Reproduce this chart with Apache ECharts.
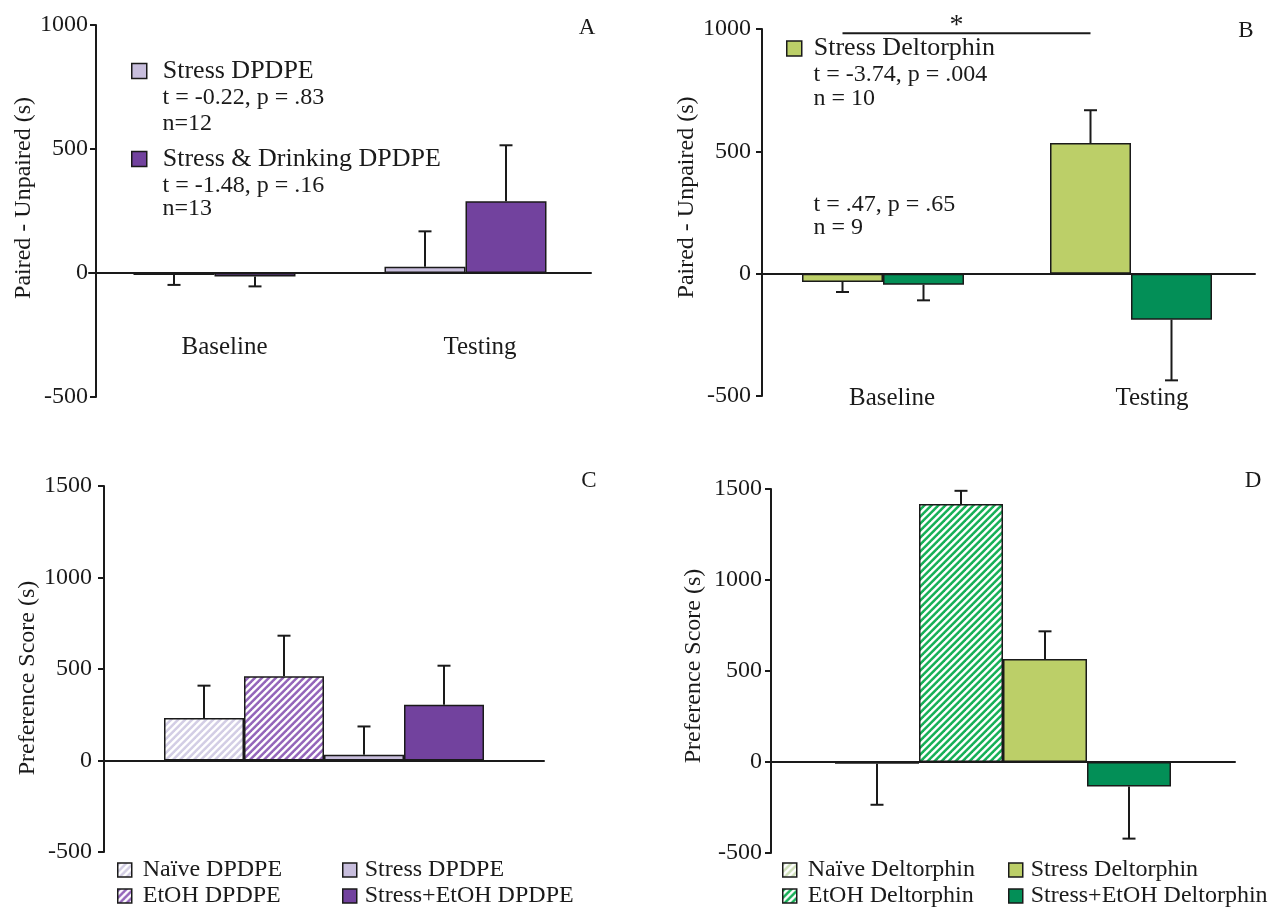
<!DOCTYPE html>
<html><head><meta charset="utf-8">
<script src="https://cdn.jsdelivr.net/npm/echarts@6/dist/echarts.min.js"></script>
<style>html,body{margin:0;padding:0;background:#fff}#c{width:1279px;height:911px}</style>
</head><body><div id="c"></div><script>
const FONT = '"Liberation Serif", "Times New Roman", serif';
const INK = '#1a1a1a';

// ---------- Data ----------
// Panel A (DPDPE, paired - unpaired)
const aCategories = ['Baseline', 'Testing'];
const aStress = [-8, 25];
const aStressSem = [40, 143];
const aDrink = [-14, 289];
const aDrinkSem = [40, 226];
const aStats1 = ['t = -0.22, p = .83', 'n=12'];
const aStats2 = ['t = -1.48, p = .16', 'n=13'];

// Panel B (Deltorphin, paired - unpaired)
const bCategories = ['Baseline', 'Testing'];
const bStress = [-34, 534];
const bStressSem = [41, 134];
const bDrink = [-45, -188];
const bDrinkSem = [64, 248];
const bStats1 = ['t = -3.74, p = .004', 'n = 10'];
const bStats2 = ['t = .47, p = .65', 'n = 9'];
const bSigLevel = 983;

// Panel C (DPDPE preference score)
const cGroups = ['Naïve DPDPE', 'EtOH DPDPE', 'Stress DPDPE', 'Stress+EtOH DPDPE'];
const cValues = [232, 460, 31, 305];
const cSem = [177, 222, 155, 213];

// Panel D (Deltorphin preference score)
const dGroups = ['Naïve Deltorphin', 'EtOH Deltorphin', 'Stress Deltorphin', 'Stress+EtOH Deltorphin'];
const dValues = [-9, 1417, 566, -134];
const dSem = [226, 73, 152, 287];

// ---------- Styles ----------
function stripes(color, p, on) {
  const c = document.createElement('canvas');
  c.width = p; c.height = p;
  const ctx = c.getContext('2d');
  ctx.fillStyle = '#ffffff'; ctx.fillRect(0, 0, p, p);
  ctx.fillStyle = color;
  [-p, 0, p, 2 * p].forEach(k => {
    ctx.beginPath();
    ctx.moveTo(k, 0); ctx.lineTo(k + on, 0); ctx.lineTo(k + on - p, p); ctx.lineTo(k - p, p);
    ctx.closePath(); ctx.fill();
  });
  return { image: c, repeat: 'repeat' };
}
const COL = {
  stressDP: '#c8bedd',
  drinkDP: '#72429e',
  naiveDP: stripes('#d3cee5', 7, 3.6),
  etohDP: stripes('#9466ba', 7, 3.6),
  stressDT: '#bccf68',
  drinkDT: '#038f57',
  naiveDT: stripes('#cfe0ba', 7, 3.6),
  etohDT: stripes('#17b057', 7, 3.6)
};

function barSeries(name, color, data, gi, bw) {
  return {
    type: 'bar', name, xAxisIndex: gi, yAxisIndex: gi, data, barWidth: bw, barGap: '0%',
    itemStyle: { color, borderColor: INK, borderWidth: 1.5 },
    emphasis: { disabled: true }, silent: true, z: 2
  };
}
function errSeries(name, means, sems, gi, offset) {
  return {
    type: 'custom', name: name + ' SEM', xAxisIndex: gi, yAxisIndex: gi, silent: true, z: 4,
    data: means.map((m, i) => [i, m, sems[i]]),
    encode: { x: 0, y: 1 },
    renderItem: (params, api) => {
      const cat = api.value(0), m = api.value(1), s = api.value(2);
      const end = m >= 0 ? m + s : m - s;
      const p0 = api.coord([cat, m]);
      const p1 = api.coord([cat, end]);
      const x = p0[0] + offset;
      const st = { stroke: INK, lineWidth: 2 };
      return {
        type: 'group', children: [
          { type: 'line', shape: { x1: x, y1: p0[1], x2: x, y2: p1[1] }, style: st },
          { type: 'line', shape: { x1: x - 6.5, y1: p1[1], x2: x + 6.5, y2: p1[1] }, style: st }
        ]
      };
    }
  };
}

function yAxis(gi, min, max, name, offset, margin, nameGap, namePad) {
  return {
    gridIndex: gi, type: 'value', min, max, interval: 500, offset,
    axisLine: { show: true, lineStyle: { color: INK, width: 2 } },
    axisTick: { show: true, length: 6, lineStyle: { color: INK, width: 2 } },
    splitLine: { show: false },
    axisLabel: { margin, fontSize: 24, fontFamily: FONT, color: INK, formatter: v => String(v) },
    name, nameLocation: 'middle', nameGap,
    nameTextStyle: { fontSize: 24, fontFamily: FONT, color: INK, padding: namePad }
  };
}
function xCatAxis(gi, data, margin, pads) {
  const rich = {};
  pads.forEach((p, i) => { rich['l' + i] = { fontSize: 25, fontFamily: FONT, color: INK, padding: [0, 0, 0, p] }; });
  return {
    gridIndex: gi, type: 'category', data,
    axisLine: { onZero: true, lineStyle: { color: INK, width: 2 } },
    axisTick: { show: false },
    axisLabel: {
      show: margin !== null, margin: margin || 0, fontSize: 25, fontFamily: FONT, color: INK,
      formatter: (v, i) => '{l' + i + '|' + v + '}', rich
    }
  };
}

function legend(names, left, top, gap, size, fs, pad) {
  return {
    data: names, orient: 'vertical', left, top, itemGap: gap, padding: 0,
    itemWidth: size, itemHeight: size, icon: 'rect', selectedMode: false,
    itemStyle: { borderColor: INK, borderWidth: 1.5 },
    textStyle: { fontSize: fs, fontFamily: FONT, color: INK, lineHeight: 26, padding: [0, 0, 0, pad] }
  };
}

const series = [
  barSeries('Stress DPDPE', COL.stressDP, aStress, 0, 81),
  barSeries('Stress & Drinking DPDPE', COL.drinkDP, aDrink, 0, 81),
  errSeries('Stress DPDPE A', aStress, aStressSem, 0, -40.5),
  errSeries('Stress & Drinking DPDPE A', aDrink, aDrinkSem, 0, 40.5),

  barSeries('Stress Deltorphin', COL.stressDT, bStress, 1, 81),
  barSeries('Stress & Drinking Deltorphin', COL.drinkDT, bDrink, 1, 81),
  errSeries('Stress Deltorphin B', bStress, bStressSem, 1, -40.5),
  errSeries('Stress & Drinking Deltorphin B', bDrink, bDrinkSem, 1, 40.5)
];
const cColors = [COL.naiveDP, COL.etohDP, COL.stressDP, COL.drinkDP];
cGroups.forEach((g, i) => {
  series.push(barSeries(g, cColors[i], [cValues[i]], 2, 80));
  series.push(errSeries(g + ' C', [cValues[i]], [cSem[i]], 2, (i - 1.5) * 80));
});
const dColors = [COL.naiveDT, COL.etohDT, COL.stressDT, COL.drinkDT];
dGroups.forEach((g, i) => {
  series.push(barSeries(g, dColors[i], [dValues[i]], 3, 84));
  series.push(errSeries(g + ' D', [dValues[i]], [dSem[i]], 3, (i - 1.5) * 84));
});

const chart = echarts.init(document.getElementById('c'), null, { renderer: 'canvas' });
chart.setOption({
  backgroundColor: '#ffffff',
  animation: false,
  grid: [
    { left: 89, top: 25, width: 502, height: 372 },
    { left: 759, top: 29, width: 496, height: 367 },
    { left: 104, top: 486, width: 440, height: 366 },
    { left: 771, top: 489, width: 464, height: 364 }
  ],
  xAxis: [
    xCatAxis(0, aCategories, -62, [20, 29]),
    xCatAxis(1, bCategories, -10, [18, 42]),
    xCatAxis(2, [''], null, [0]),
    xCatAxis(3, [''], null, [0])
  ],
  yAxis: [
    yAxis(0, -500, 1000, 'Paired - Unpaired (s)', -7, 8, 59, [0, 0, 0, 26]),
    yAxis(1, -500, 1000, 'Paired - Unpaired (s)', -3, 11, 55, [0, 0, 0, 30]),
    yAxis(2, -500, 1500, 'Preference Score (s)', 0, 12, 55, [0, 18, 0, 0]),
    yAxis(3, -500, 1500, 'Preference Score (s)', 0, 9, 65, [0, 0, 0, 10])
  ],
  legend: [
    legend(['Stress DPDPE', 'Stress & Drinking DPDPE'], 131, 58, 62, 15, 26, 11),
    legend(['Stress Deltorphin'], 786, 35.5, 0, 15, 26, 7),
    legend(['Naïve DPDPE', 'EtOH DPDPE'], 117, 857, 0, 14, 24, 6),
    legend(['Stress DPDPE', 'Stress+EtOH DPDPE'], 342, 857, 0, 14, 24, 3),
    legend(['Naïve Deltorphin', 'EtOH Deltorphin'], 782, 857, 0, 14, 24, 6),
    legend(['Stress Deltorphin', 'Stress+EtOH Deltorphin'], 1008, 857, 0, 14, 24, 3)
  ],
  series
});

// ---------- Annotations ----------
function txt(text, x, y, fs, align) {
  return { type: 'text', x, y, silent: true, z: 10,
    style: { text, fontSize: fs, fontFamily: FONT, fill: INK, align: align || 'left', verticalAlign: 'middle' } };
}
const sigL = chart.convertToPixel({ xAxisIndex: 1, yAxisIndex: 1 }, [0, bSigLevel]);
const sigR = chart.convertToPixel({ xAxisIndex: 1, yAxisIndex: 1 }, [1, bSigLevel]);
const x1 = sigL[0] - 40.5, x2 = sigR[0] - 40.5;
chart.setOption({
  graphic: [
    txt('A', 587, 28, 23, 'center'),
    txt('B', 1246, 31, 23, 'center'),
    txt('C', 589, 481, 23, 'center'),
    txt('D', 1253, 481, 23, 'center'),
    txt(aStats1[0], 162.5, 98, 24), txt(aStats1[1], 162.5, 123.6, 24),
    txt(aStats2[0], 162.5, 186.2, 24), txt(aStats2[1], 162.5, 208.6, 24),
    txt(bStats1[0], 813.5, 75.2, 24), txt(bStats1[1], 813.5, 99.2, 24),
    txt(bStats2[0], 813.5, 205.2, 24), txt(bStats2[1], 813.5, 227.9, 24),
    { type: 'line', silent: true, z: 10, shape: { x1, y1: sigL[1], x2, y2: sigL[1] }, style: { stroke: INK, lineWidth: 2 } },
    txt('*', x1 + 0.46 * (x2 - x1), sigL[1] - 8, 28, 'center')
  ]
});
</script></body></html>
